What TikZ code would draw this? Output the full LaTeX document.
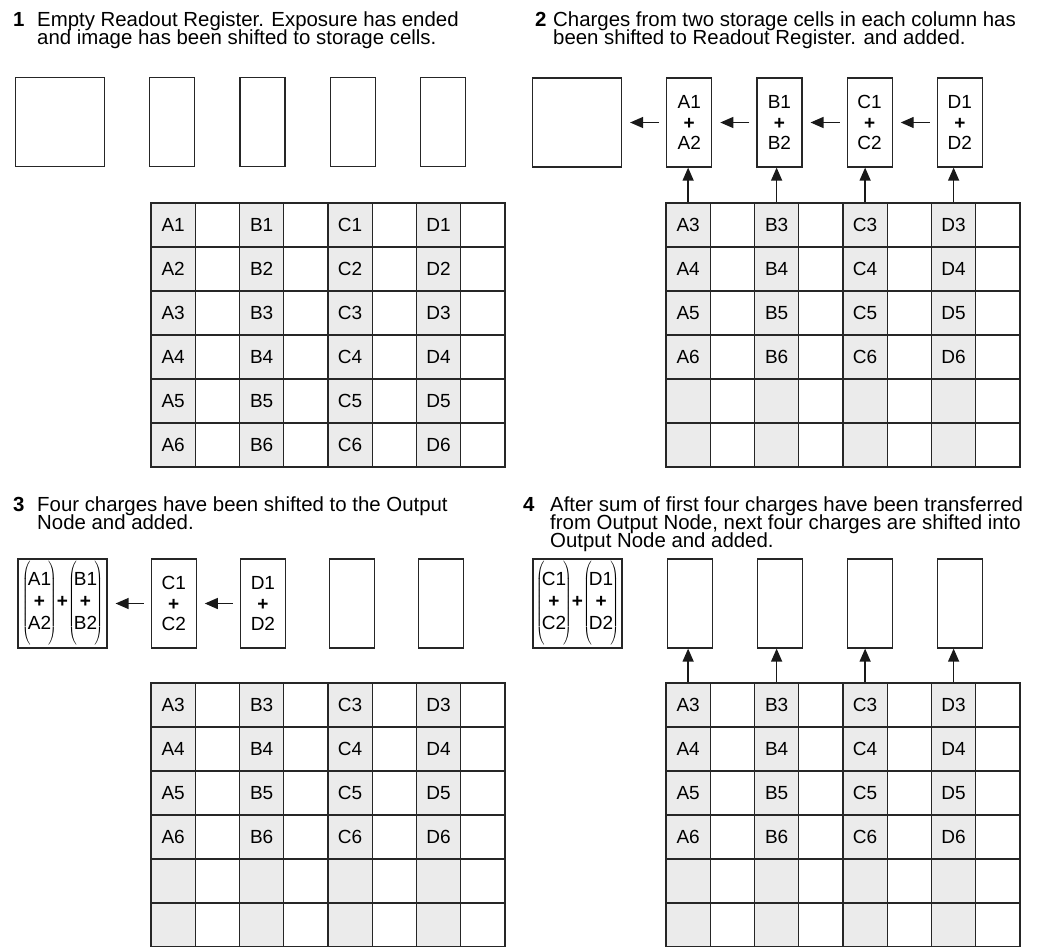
\documentclass[tikz,border=0pt]{standalone}
\usepackage{fontspec}
\setmainfont{Liberation Sans}
\usetikzlibrary{arrows.meta,positioning}

% two caption lines, baseline of the first line is the node base
\newcommand{\steptext}[1]{\parbox[t]{500pt}{\fontsize{20.4}{18}\selectfont\lineskiplimit=-30pt\raggedright #1}}
% summed pair in the output node
\newcommand{\sumcol}[2]{\left(\vrule height 39pt depth 39pt width 0pt\!\begin{tabular}{@{}c@{}}#1\\\textbf{+}\\#2\end{tabular}\!\right)}
% storage area: name, left, top, label of first row
\newcommand{\storegrid}[4]{%
  \foreach \col [count=\i] in {A,B,C,D} {
    \foreach \r in {1,...,6} {
      \pgfmathtruncatemacro{\rowno}{\r+#4-1}
      \ifnum\rowno>6 \def\txt{}\else\edef\txt{\col\rowno}\fi
      \node (#1-\col\r) [store] at ({#2+(2*\i-1.5)*44.25},{#3+(\r-0.5)*44}) {\txt};
      \node (#1-\col\r-e) [cell] at ({#2+(2*\i-0.5)*44.25},{#3+(\r-0.5)*44}) {};
    }
  }
}

\begin{document}
\begin{tikzpicture}[x=1pt, y=-1pt, node distance=44pt,
    reg/.style={draw=black!85, line width=1.2pt, rectangle, minimum width=45pt, minimum height=89pt, inner sep=0pt, align=center, font=\fontsize{19}{20.5}\selectfont},
    outnode/.style={reg, minimum width=89pt, font=\fontsize{19}{22}\selectfont},
    cell/.style={draw=black!85, line width=1.2pt, rectangle, minimum width=44.25pt, minimum height=44pt, inner sep=0pt, font=\fontsize{19}{20}\selectfont},
    store/.style={cell, fill=black!8},
    stepno/.style={anchor=base west, inner sep=0pt, font=\fontsize{20.4}{18}\bfseries},
    caption/.style={anchor=base west, inner sep=0pt},
    shiftarrow/.style={-{Triangle[length=13pt,width=11pt]}, line width=1.3pt, black!90}]
  \useasboundingbox (0,0) rectangle (1045,946);

  % Step 1
  \node (n1) [stepno] at (13,26) {1};
  \node (t1) [caption] at (37,26) {\steptext{Empty Readout Register. Exposure has ended\\and image has been shifted to storage cells.}};
  \node (p1o) [outnode] at (60,122) {};
  \node (p1a) [reg, right=of p1o] {};
  \node (p1b) [reg, right=of p1a] {};
  \node (p1c) [reg, right=of p1b] {};
  \node (p1d) [reg, right=of p1c] {};
  \storegrid{p1}{151}{203}{1}

  % Step 2
  \node (n2) [stepno] at (535,26) {2};
  \node (t2) [caption] at (553,26) {\steptext{Charges from two storage cells in each column has\\been shifted to Readout Register. and added.}};
  \node (p2o) [outnode] at (577,122.5) {};
  \node (p2a) [reg, right=of p2o] {A1\\\textbf{+}\\A2};
  \node (p2b) [reg, right=of p2a] {B1\\\textbf{+}\\B2};
  \node (p2c) [reg, right=of p2b] {C1\\\textbf{+}\\C2};
  \node (p2d) [reg, right=of p2c] {D1\\\textbf{+}\\D2};
  \storegrid{p2}{666}{203}{3}

  % Step 3
  \node (n3) [stepno] at (13,511) {3};
  \node (t3) [caption] at (37,511) {\steptext{Four charges have been shifted to the Output\\Node and added.}};
  \node (p3o) [outnode] at (62.5,603.5) {$\sumcol{A1}{A2}\!\textbf{+}\!\sumcol{B1}{B2}$};
  \node (p3c) [reg, right=43pt of p3o] {C1\\\textbf{+}\\C2};
  \node (p3d) [reg, right=43pt of p3c] {D1\\\textbf{+}\\D2};
  \node (p3e) [reg, right=43pt of p3d] {};
  \node (p3f) [reg, right=43pt of p3e] {};
  \storegrid{p3}{151}{683}{3}

  % Step 4
  \node (n4) [stepno] at (523,511) {4};
  \node (t4) [caption] at (550,511) {\steptext{After sum of first four charges have been transferred\\from Output Node, next four charges are shifted into\\Output Node and added.}};
  \node (p4o) [outnode] at (577.5,603.5) {$\sumcol{C1}{C2}\!\textbf{+}\!\sumcol{D1}{D2}$};
  \node (p4a) [reg, right=of p4o] {};
  \node (p4b) [reg, right=of p4a] {};
  \node (p4c) [reg, right=of p4b] {};
  \node (p4d) [reg, right=of p4c] {};
  \storegrid{p4}{666}{683}{3}

  % Arrows
  \draw [shiftarrow, shorten <=7pt, shorten >=8pt] (p2a) -- (p2o);
  \draw [shiftarrow, shorten <=7pt, shorten >=8pt] (p2b) -- (p2a);
  \draw [shiftarrow, shorten <=7pt, shorten >=8pt] (p2c) -- (p2b);
  \draw [shiftarrow, shorten <=7pt, shorten >=8pt] (p2d) -- (p2c);
  \draw [shiftarrow] (p2-A1.north) -- (p2-A1.north |- p2a.south);
  \draw [shiftarrow] (p2-B1.north) -- (p2-B1.north |- p2b.south);
  \draw [shiftarrow] (p2-C1.north) -- (p2-C1.north |- p2c.south);
  \draw [shiftarrow] (p2-D1.north) -- (p2-D1.north |- p2d.south);
  \draw [shiftarrow, shorten <=7pt, shorten >=8pt] (p3c) -- (p3o);
  \draw [shiftarrow, shorten <=7pt, shorten >=8pt] (p3d) -- (p3c);
  \draw [shiftarrow] (p4-A1.north) -- (p4-A1.north |- p4a.south);
  \draw [shiftarrow] (p4-B1.north) -- (p4-B1.north |- p4b.south);
  \draw [shiftarrow] (p4-C1.north) -- (p4-C1.north |- p4c.south);
  \draw [shiftarrow] (p4-D1.north) -- (p4-D1.north |- p4d.south);
\end{tikzpicture}
\end{document}
